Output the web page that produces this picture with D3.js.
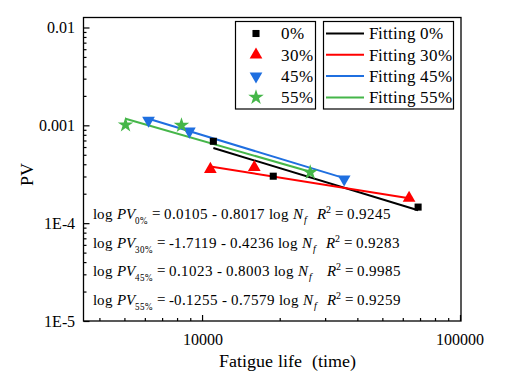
<!DOCTYPE html>
<html><head><meta charset="utf-8">
<script src="https://cdn.jsdelivr.net/npm/d3@7"></script>
<style>
@font-face{font-family:"ChartSerif";src:local("Liberation Serif"),local("LiberationSerif-Regular"),local("Times New Roman");font-style:normal;}
@font-face{font-family:"ChartSerif";src:local("Liberation Serif Italic"),local("LiberationSerif-Italic"),local("Times New Roman Italic");font-style:italic;}
</style>
</head>
<body style="margin:0;background:#fff"><svg id="c" width="524" height="381"></svg>
<script>
// ---- data ----
const seriesNames = ["0%", "30%", "45%", "55%"];
const life0  = [11060, 18880, 68800];
const pv0    = [6.87e-4, 3.02e-4, 1.46e-4];
const life30 = [10770, 15940, 63470];
const pv30   = [3.56e-4, 3.73e-4, 1.80e-4];
const life45 = [6200, 8930, 35560];
const pv45   = [1.125e-3, 8.69e-4, 2.81e-4];
const life55 = [5050, 8320, 26260];
const pv55   = [1.01e-3, 1.0e-3, 3.31e-4];
const fitIntercepts = [0.0105, -1.7119, 0.1023, -0.1255];
const fitSlopes     = [-0.8017, -0.4236, -0.8003, -0.7579];
const fitR2         = ["0.9245", "0.9283", "0.9985", "0.9259"];
const interceptLabels = ["0.0105", "-1.7119", "0.1023", "-0.1255"];
const slopeLabels     = ["0.8017", "0.4236", "0.8003", "0.7579"];
const yTickValues = [1e-5, 1e-4, 1e-3, 1e-2];
const yTickLabels = ["1E-5", "1E-4", "0.001", "0.01"];
const xTickValues = [10000, 100000];
const xTickLabels = ["10000", "100000"];

const FONT = "ChartSerif, 'Liberation Serif', 'Times New Roman', Tinos, serif";
const colors = ["#000000", "#ff0000", "#1f6fe0", "#45b649"];
const symbols = [d3.symbolSquare, d3.symbolTriangle, d3.symbolTriangle, d3.symbolStar];
const symSize = [50, 70, 70, 75];
const symRot = [0, 0, 180, 0];

const series = [
  {life: life0, pv: pv0}, {life: life30, pv: pv30},
  {life: life45, pv: pv45}, {life: life55, pv: pv55}
];

const svg = d3.select("#c");
const L = 83.5, R = 461, T = 17.5, B = 321;
const x = d3.scaleLog().domain([3470, 100900]).range([L, R]);
const y = d3.scaleLog().domain([1e-5, 0.01265]).range([B, T]);

// minor ticks
const xMinor = [];
for (let d = 1000; d <= 10000; d *= 10) for (let k = 2; k <= 9; k++) { const v = d * k; if (v >= 3470 && v <= 100900) xMinor.push(v); }
const yMinor = [];
for (let d = 1e-5; d < 0.02; d *= 10) for (let k = 2; k <= 9; k++) { const v = d * k; if (v <= 0.01265) yMinor.push(v); }

function txt(sel, size) {
  return sel.attr("font-family", FONT).style("font-family", FONT).style("font-size", size + "px");
}

const gx = svg.append("g").attr("transform", `translate(0,${B})`);
gx.call(d3.axisBottom(x).tickValues(xMinor).tickSize(-3).tickFormat(""));
gx.select(".domain").remove();
const gx2 = svg.append("g").attr("transform", `translate(0,${B})`);
gx2.call(d3.axisBottom(x).tickValues(xTickValues).tickSize(-6).tickPadding(13)
  .tickFormat((d, i) => xTickLabels[i]));
gx2.select(".domain").remove();
txt(gx2.selectAll("text"), 16);

const gy = svg.append("g").attr("transform", `translate(${L},0)`);
gy.call(d3.axisLeft(y).tickValues(yMinor).tickSize(-3).tickFormat(""));
gy.select(".domain").remove();
const gy2 = svg.append("g").attr("transform", `translate(${L},0)`);
gy2.call(d3.axisLeft(y).tickValues(yTickValues).tickSize(-6).tickPadding(9)
  .tickFormat((d, i) => yTickLabels[i]));
gy2.select(".domain").remove();
txt(gy2.selectAll("text"), 16);
svg.selectAll(".tick line").attr("stroke", "#000").attr("stroke-width", 1.2);

// frame
svg.append("rect").attr("x", L).attr("y", T).attr("width", R - L).attr("height", B - T)
  .attr("fill", "none").attr("stroke", "#000").attr("stroke-width", 1.3);

// fitted lines
series.forEach((s, i) => {
  const lo = d3.min(s.life), hi = d3.max(s.life);
  const f = n => Math.pow(10, fitIntercepts[i] + fitSlopes[i] * Math.log10(n));
  svg.append("line")
    .attr("x1", x(lo)).attr("y1", y(f(lo)))
    .attr("x2", x(hi)).attr("y2", y(f(hi)))
    .attr("stroke", colors[i]).attr("stroke-width", 2);
});

// markers
series.forEach((s, i) => {
  svg.append("g").selectAll("path").data(s.life).join("path")
    .attr("d", d3.symbol().type(symbols[i]).size(symSize[i]))
    .attr("transform", (d, j) => `translate(${x(d)},${y(s.pv[j])}) rotate(${symRot[i]})`)
    .attr("fill", colors[i]);
});

// legends
const leg1 = svg.append("g");
leg1.append("rect").attr("x", 235.5).attr("y", 21.5).attr("width", 80).attr("height", 87.5)
  .attr("fill", "#fff").attr("stroke", "#000").attr("stroke-width", 1.2);
const leg2 = svg.append("g");
leg2.append("rect").attr("x", 323.5).attr("y", 21.5).attr("width", 130).attr("height", 87.5)
  .attr("fill", "#fff").attr("stroke", "#000").attr("stroke-width", 1.2);
seriesNames.forEach((nm, i) => {
  const yy = 33.5 + i * 21.3;
  leg1.append("path").attr("d", d3.symbol().type(symbols[i]).size(symSize[i])())
    .attr("transform", `translate(256,${yy}) rotate(${symRot[i]})`).attr("fill", colors[i]);
  txt(leg1.append("text").attr("x", 281).attr("y", yy).attr("dy", "0.35em"), 16.5).text(nm);
  leg2.append("line").attr("x1", 326).attr("x2", 364).attr("y1", yy).attr("y2", yy)
    .attr("stroke", colors[i]).attr("stroke-width", 2);
  txt(leg2.append("text").attr("x", 369).attr("y", yy).attr("dy", "0.35em"), 16.5).text("Fitting " + nm);
});

// equations
const eqBase = [219, 248, 276, 305];
const r2X = [317, 326, 327, 327];
seriesNames.forEach((nm, i) => {
  const t = txt(svg.append("text").attr("x", 93).attr("y", eqBase[i]), 15);
  t.append("tspan").text("log ");
  t.append("tspan").style("font-style", "italic").text("PV");
  t.append("tspan").attr("dy", 5).style("font-size", "8.5px").text(nm);
  t.append("tspan").attr("dy", -5).text(" = " + interceptLabels[i] + " - " + slopeLabels[i] + " log ");
  t.append("tspan").style("font-style", "italic").text("N");
  t.append("tspan").attr("dy", 4).attr("dx", 1).style("font-size", "9.5px").style("font-style", "italic").text("f");
  const r = txt(svg.append("text").attr("x", r2X[i]).attr("y", eqBase[i]), 15);
  r.append("tspan").style("font-style", "italic").text("R");
  r.append("tspan").attr("dy", -6).style("font-size", "9.5px").text("2");
  r.append("tspan").attr("dy", 6).text(" = " + fitR2[i]);
});

// axis titles
txt(svg.append("text").attr("x", 287).attr("y", 367).attr("text-anchor", "middle"), 18)
  .text("Fatigue life\u00a0\u00a0(time)");
txt(svg.append("text").attr("transform", "translate(33,174) rotate(-90)").attr("text-anchor", "middle"), 18)
  .text("PV");
</script></body></html>
